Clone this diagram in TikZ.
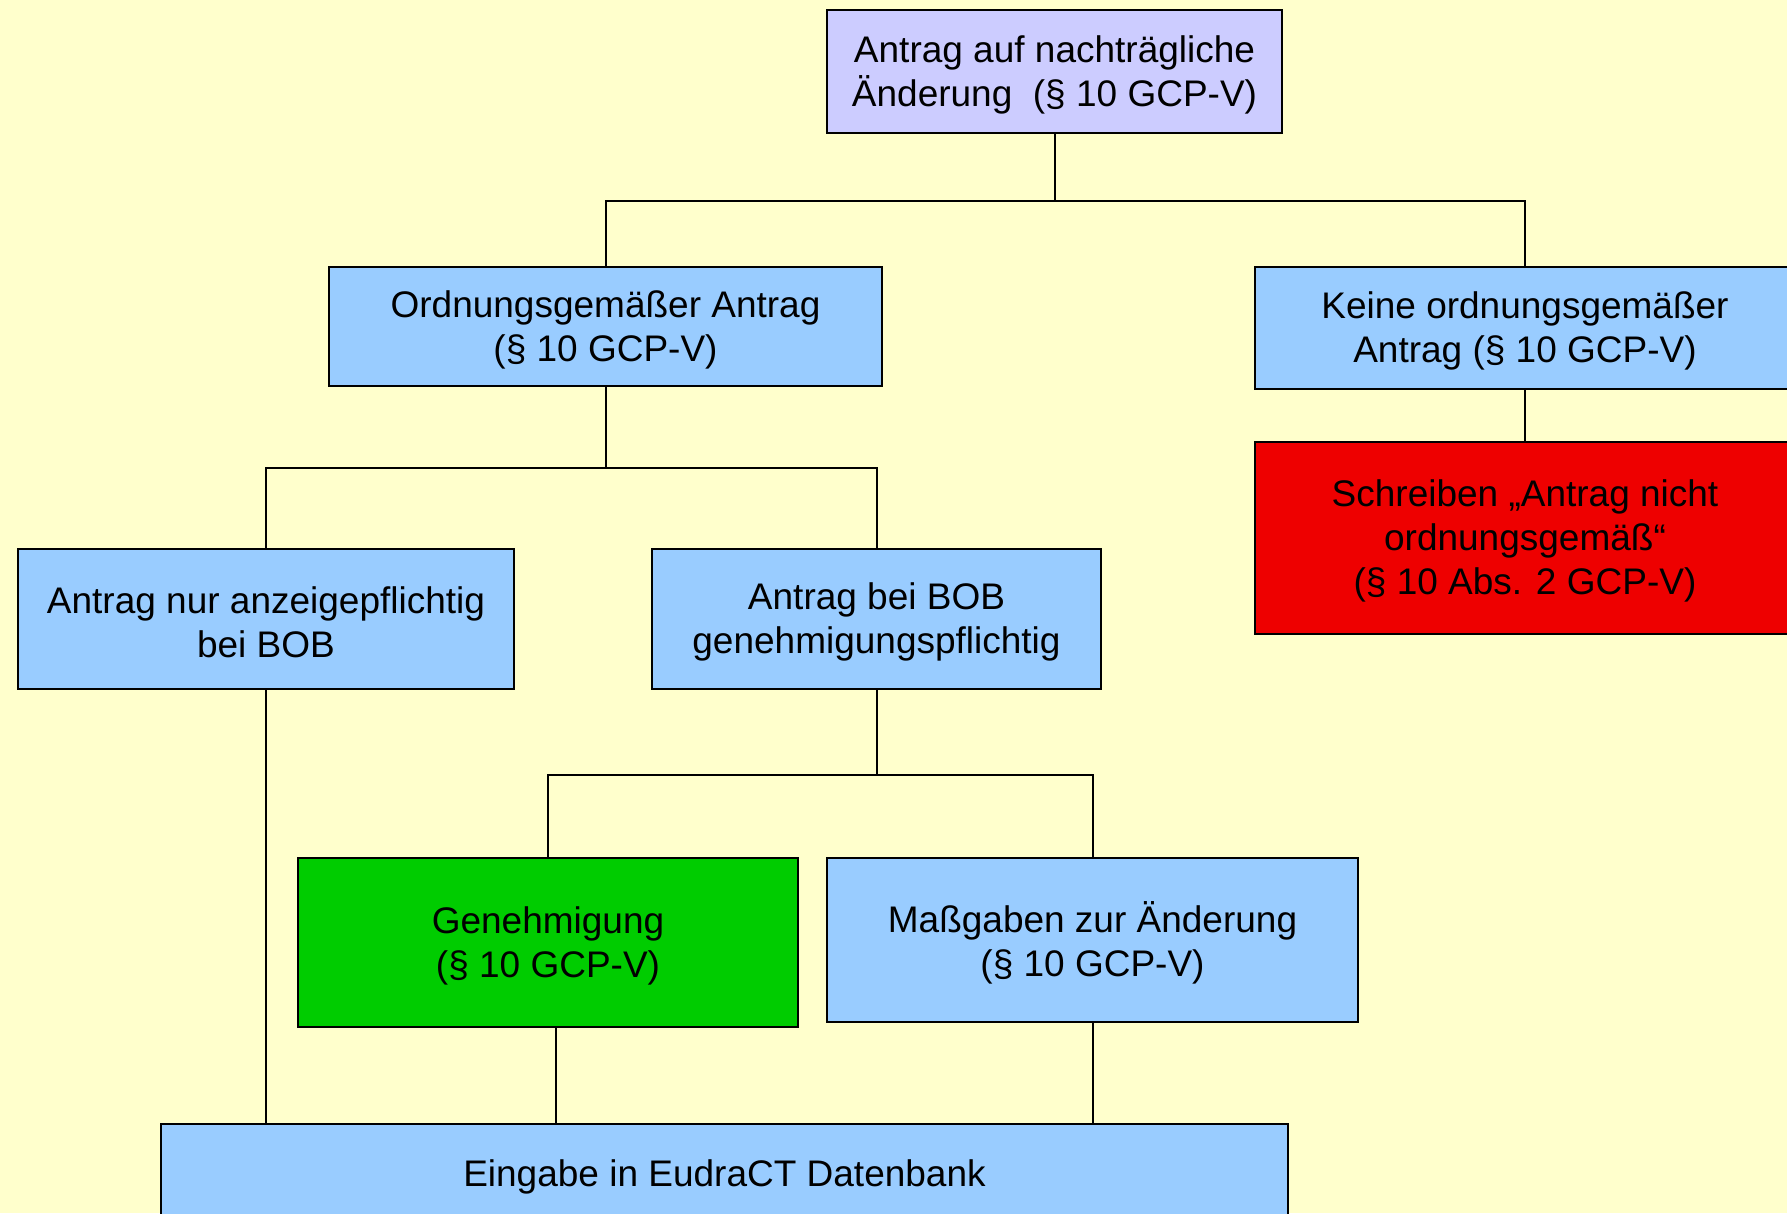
\documentclass[tikz,border=0pt]{standalone}
\usepackage{fontspec}
\setmainfont{Liberation Sans}
\definecolor{bg}{HTML}{FFFFCC}
\definecolor{lav}{HTML}{CCCCFF}
\definecolor{lblue}{HTML}{99CCFF}
\definecolor{rred}{HTML}{EE0000}
\definecolor{ggreen}{HTML}{00CC00}
\begin{document}
\begin{tikzpicture}[x=1pt,y=-1pt,
  box/.style={draw=black, line width=2pt, anchor=north west, inner sep=0pt, fill=lblue},
  txt/.style={align=center, font=\fontsize{37}{44}\selectfont, inner sep=0pt, yshift=-3pt},
  conn/.style={draw=black, line width=2pt}]
\useasboundingbox (0,0) rectangle (1787,1213);
\clip (0,0) rectangle (1787,1213);
\fill[bg] (0,0) rectangle (1787,1213);
\node[box, fill=lav, minimum width=455pt, minimum height=123pt,
  label={[txt]center:{Antrag auf nachträgliche\\Änderung\ \ (§ 10 GCP-V)}}] (top) at (826,9) {};
\node[box, minimum width=553pt, minimum height=119pt,
  label={[txt]center:{Ordnungsgemäßer Antrag\\(§ 10 GCP-V)}}] (ord) at (328,266) {};
\node[box, minimum width=540pt, minimum height=122pt,
  label={[txt]center:{Keine ordnungsgemäßer\\Antrag (§ 10 GCP-V)}}] (keine) at (1254,266) {};
\node[box, fill=rred, minimum width=540pt, minimum height=192pt,
  label={[txt]center:{Schreiben „Antrag nicht\\ordnungsgemäß“\\(§ 10 Abs. 2 GCP-V)}}] (schr) at (1254,441) {};
\node[box, minimum width=496pt, minimum height=140pt,
  label={[txt]center:{Antrag nur anzeigepflichtig\\bei BOB}}] (nur) at (17,548) {};
\node[box, minimum width=449pt, minimum height=140pt,
  label={[txt]center:{Antrag bei BOB\\genehmigungspflichtig}}] (bob) at (651,548) {};
\node[box, fill=ggreen, minimum width=500pt, minimum height=169pt,
  label={[txt]center:{Genehmigung\\(§ 10 GCP-V)}}] (gen) at (297,857) {};
\node[box, minimum width=531pt, minimum height=164pt,
  label={[txt]center:{Maßgaben zur Änderung\\(§ 10 GCP-V)}}] (mass) at (826,857) {};
\node[box, minimum width=1127pt, minimum height=100pt,
  label={[txt]center:{Eingabe in EudraCT Datenbank}}] (ein) at (160,1123) {};
% connectors
\draw[conn] (top.south) -- ++(0,67) coordinate (j1);
\draw[conn] (j1) -| (ord.north);
\draw[conn] (j1) -| (keine.north);
\draw[conn] (keine.south) -- (schr.north);
\draw[conn] (ord.south) -- ++(0,81) coordinate (j2);
\draw[conn] (j2) -| (nur.north);
\draw[conn] (j2) -| (bob.north);
\draw[conn] (bob.south) -- ++(0,85) coordinate (j3);
\draw[conn] (j3) -| (gen.north);
\draw[conn] (j3) -| (mass.north);
\draw[conn] (nur.south) -- (nur.south |- ein.north);
\draw[conn] ([xshift=8pt]gen.south) -- ([xshift=8pt]gen.south |- ein.north);
\draw[conn] (mass.south) -- (mass.south |- ein.north);
\end{tikzpicture}
\end{document}
